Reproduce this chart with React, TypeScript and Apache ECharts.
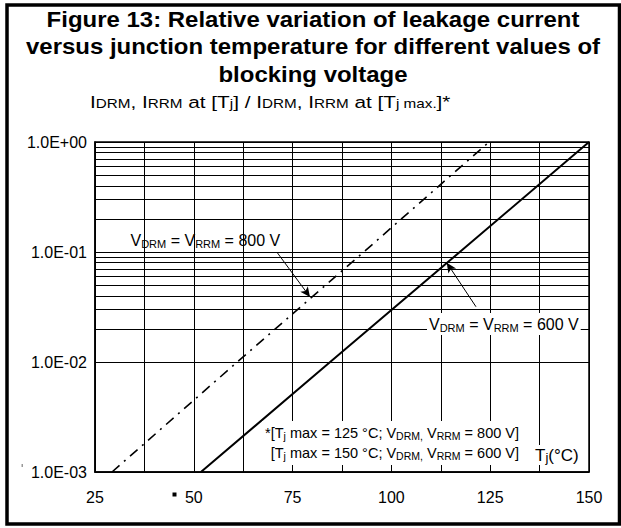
import React, { useEffect, useRef } from "react";
import * as echarts from "echarts";

const FONT = "'Liberation Sans', Arial, Helvetica, sans-serif";

// Axis ranges / ticks
const X_MIN = 25;
const X_MAX = 150;
const X_GRID_STEP = 12.5;
const X_LABEL_STEP = 25;
const Y_MIN = 0.001;
const Y_MAX = 1;

// Minor log grid lines (2..9 within each decade)
const decadeStarts = [0.001, 0.01, 0.1];
const minorFactors = [2, 3, 4, 5, 6, 7, 8, 9];

// Series
const temp800 = [29.3, 61, 93, 124.7];
const rel800 = [0.001, 0.01, 0.1, 1];
const temp600 = [51.8, 84.5, 117.3, 150];
const rel600 = [0.001, 0.01, 0.1, 1];

// Arrow annotations (data space): [fromT, fromRel, toT, toRel]
const arrow800 = [71, 0.1, 79.4, 0.039];
const arrow600 = [121.4, 0.0318, 114, 0.08];

function yLabel(v: number): string {
  const e = Math.round(Math.log10(v));
  const sign = e < 0 ? "-" : "+";
  return "1.0E" + sign + String(Math.abs(e)).padStart(2, "0");
}

export default function App() {
  const ref = useRef<HTMLDivElement>(null);
  useEffect(() => {
    if (!ref.current) return;
    const chart = echarts.init(ref.current, undefined, { renderer: "svg" });
    const minorValues: number[] = [];
    decadeStarts.forEach((d) => minorFactors.forEach((f) => minorValues.push(d * f)));

    const big = { fontSize: 16, fontFamily: FONT, color: "#000" };
    const sub = { fontSize: 11, fontFamily: FONT, color: "#000", padding: [7, 0, 0, 0] };
    const fnBig = { fontSize: 14.5, fontFamily: FONT, color: "#000" };
    const fnSub = { fontSize: 10.5, fontFamily: FONT, color: "#000", padding: [6, 0, 0, 0] };

    const option: any = {
      animation: false,
      backgroundColor: "#fff",
      textStyle: { fontFamily: FONT },
      grid: {
        left: 95,
        top: 142,
        width: 494,
        height: 330,
        show: true,
        borderColor: "#000",
        borderWidth: 1.5,
        backgroundColor: "transparent",
      },
      xAxis: {
        type: "value",
        min: X_MIN,
        max: X_MAX,
        interval: X_GRID_STEP,
        axisLine: { show: true, lineStyle: { color: "#000", width: 1.5 } },
        axisTick: { show: false },
        splitLine: { show: true, lineStyle: { color: "#000", width: 1 } },
        axisLabel: {
          color: "#000",
          fontSize: 16,
          fontFamily: FONT,
          margin: 17,
          showMinLabel: true,
          showMaxLabel: true,
          formatter: (v: number) => (Math.abs(v % X_LABEL_STEP) < 1e-6 ? String(v) : ""),
        },
      },
      yAxis: {
        type: "log",
        logBase: 10,
        min: Y_MIN,
        max: Y_MAX,
        axisLine: { show: true, lineStyle: { color: "#000", width: 1.5 } },
        axisTick: { show: false },
        splitLine: { show: true, lineStyle: { color: "#000", width: 1 } },
        axisLabel: {
          color: "#000",
          fontSize: 16,
          fontFamily: FONT,
          margin: 8,
          formatter: (v: number) => yLabel(v),
        },
      },
      series: [
        {
          type: "line",
          data: [],
          silent: true,
          z: 1,
          markLine: {
            silent: true,
            symbol: "none",
            label: { show: false },
            lineStyle: { color: "#000", width: 1, type: "solid" },
            data: minorValues.map((v) => ({ yAxis: v })),
          },
        },
        {
          type: "line",
          name: "800 V",
          data: temp800.map((t, i) => [t, rel800[i]]),
          showSymbol: false,
          z: 3,
          lineStyle: { color: "#000", width: 1.6, type: [10, 6, 2, 6] },
        },
        {
          type: "line",
          name: "600 V",
          data: temp600.map((t, i) => [t, rel600[i]]),
          showSymbol: false,
          z: 3,
          lineStyle: { color: "#000", width: 2 },
        },
        {
          type: "line",
          data: [],
          silent: true,
          z: 4,
          markLine: {
            silent: true,
            symbol: ["none", "arrow"],
            symbolSize: [7, 10],
            label: { show: false },
            lineStyle: { color: "#000", width: 1, type: "solid" },
            itemStyle: { color: "#000" },
            data: [
              [{ coord: [arrow800[0], arrow800[1]] }, { coord: [arrow800[2], arrow800[3]] }],
              [{ coord: [arrow600[0], arrow600[1]] }, { coord: [arrow600[2], arrow600[3]] }],
            ],
          },
        },
      ],
      graphic: [
        {
          type: "rect",
          z: 100,
          shape: { x: 7, y: 5, width: 612.5, height: 519 },
          style: { fill: "none", stroke: "#000", lineWidth: 3.5 },
        },
        {
          type: "text",
          z: 100,
          x: 313,
          y: 5.5,
          scaleX: 1.09,
          style: {
            text:
              "Figure 13: Relative variation of leakage current\nversus junction temperature for different values of\nblocking voltage",
            textAlign: "center",
            textVerticalAlign: "top",
            font: "bold 22px " + FONT,
            lineHeight: 27.5,
            fill: "#000",
          },
        },
        {
          type: "text",
          z: 100,
          x: 90,
          y: 102,
          scaleX: 1.22,
          style: {
            text:
              "{b|I}{s|DRM}{b|, I}{s|RRM}{b| at [T}{s|j}{b|] / I}{s|DRM}{b|, I}{s|RRM}{b| at [T}{s|j max.}{b|]*}",
            textVerticalAlign: "middle",
            rich: {
              b: { ...big, fontSize: 17 },
              s: { fontSize: 12.5, fontFamily: FONT, color: "#000", padding: [3, 0, 0, 0] },
            },
          },
        },
        {
          type: "text",
          z: 100,
          x: 130.5,
          y: 240,
          style: {
            text: "{b|V}{s|DRM}{b| = V}{s|RRM}{b| = 800 V}",
            textVerticalAlign: "middle",
            rich: { b: big, s: sub },
          },
        },
        {
          type: "text",
          z: 100,
          x: 427,
          y: 324,
          style: {
            text: "{b|V}{s|DRM}{b| = V}{s|RRM}{b| = 600 V}",
            textVerticalAlign: "middle",
            backgroundColor: "#fff",
            padding: [2, 2, 2, 2],
            rich: { b: big, s: sub },
          },
        },
        {
          type: "text",
          z: 100,
          x: 522,
          y: 443,
          style: {
            text:
              "{b|*[T}{s|j}{b| max = 125 °C; V}{s|DRM,}{b| V}{s|RRM}{b| = 800 V]}\n{b|[T}{s|j}{b| max = 150 °C; V}{s|DRM,}{b| V}{s|RRM}{b| = 600 V]}",
            textAlign: "right",
            textVerticalAlign: "middle",
            backgroundColor: "#fff",
            padding: [2, 3, 2, 3],
            rich: { b: { ...fnBig, lineHeight: 20 }, s: fnSub },
          },
        },
        {
          type: "text",
          z: 100,
          x: 534,
          y: 455,
          style: {
            text: "{b|T}{s|j}{b|(°C)}",
            textVerticalAlign: "middle",
            backgroundColor: "#fff",
            padding: [1, 1, 1, 1],
            rich: { b: { ...big, fontSize: 17 }, s: { ...sub, fontSize: 13, padding: [5, 0, 0, 0] } },
          },
        },
        {
          type: "rect",
          z: 100,
          shape: { x: 172.5, y: 492.5, width: 4, height: 4 },
          style: { fill: "#000" },
        },
        {
          type: "rect",
          z: 100,
          shape: { x: 21.5, y: 464, width: 1.5, height: 3 },
          style: { fill: "#999" },
        },
      ],
    };
    chart.setOption(option);
    return () => chart.dispose();
  }, []);
  return (
    <div
      ref={ref}
      style={{ position: "absolute", left: 0, top: 0, width: 621, height: 528 }}
    />
  );
}
